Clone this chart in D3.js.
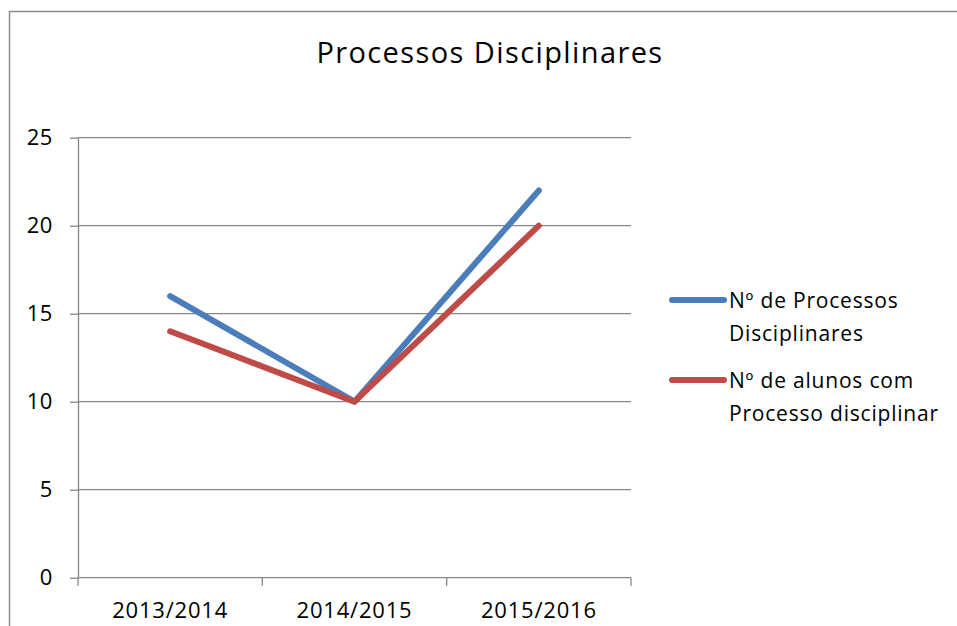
<!DOCTYPE html>
<html>

<head>
  <meta charset="utf-8">
  <title>Processos Disciplinares</title>
  <style>
    body {
      margin: 0;
      background: #fff;
    }

    svg text {
      font-family: "Open Sans", sans-serif;
      fill: #000;
    }

    .grid line {
      stroke: #868686;
      stroke-width: 1.3px;
    }
  </style>
</head>

<body>
  <svg class="chart" width="957" height="626"></svg>

  <script src="https://d3js.org/d3.v7.min.js"></script>
  <script>
    // values
    var years = ['2013/2014', '2014/2015', '2015/2016'];
    var processos = [16, 10, 22];
    var alunos = [14, 10, 20];
    var yTicks = [0, 5, 10, 15, 20, 25];
    var seriesNames = [
      ['Nº de Processos', 'Disciplinares'],
      ['Nº de alunos com', 'Processo disciplinar']
    ];
    var seriesColors = ['#4a7ebb', '#be4b48'];

    var svg = d3.select('svg.chart');
    var plot = { left: 78, right: 631, top: 137.7, bottom: 577.7 };

    // outer chart border (runs off the right and bottom of the picture)
    svg.append('rect')
      .attr('x', 9.5)
      .attr('y', 11.5)
      .attr('width', 1000)
      .attr('height', 700)
      .attr('fill', 'none')
      .attr('stroke', '#8c8c8c')
      .attr('stroke-width', 1.5);

    svg.append('text')
      .attr('x', 490)
      .attr('y', 62.5)
      .attr('text-anchor', 'middle')
      .style('font-size', '29px')
      .style('letter-spacing', '1.4px')
      .text('Processos Disciplinares');

    var x = d3.scaleBand().domain(years).range([plot.left, plot.right]);
    var y = d3.scaleLinear().domain([0, 25]).range([plot.bottom, plot.top]);

    function cx(d) {
      return x(d) + x.bandwidth() / 2;
    }

    // horizontal gridlines
    svg.append('g')
      .attr('class', 'grid')
      .selectAll('line')
      .data(yTicks.filter(function(t) { return t > 0; }))
      .enter().append('line')
      .attr('x1', plot.left)
      .attr('x2', plot.right)
      .attr('y1', function(d) { return y(d); })
      .attr('y2', function(d) { return y(d); });

    // y axis
    var yAxis = svg.append('g')
      .attr('transform', 'translate(' + plot.left + ',0)')
      .call(d3.axisLeft(y).tickValues(yTicks).tickSizeInner(8).tickSizeOuter(0).tickPadding(17));
    yAxis.selectAll('line, path').attr('stroke', '#868686').attr('stroke-width', 1.3);
    yAxis.selectAll('text')
      .style('font-family', '"Open Sans", sans-serif')
      .style('font-size', '22px')
      .style('letter-spacing', '0.6px')
      .attr('fill', '#000');

    // x axis: ticks sit on the category boundaries
    var xAxis = svg.append('g')
      .attr('transform', 'translate(0,' + plot.bottom + ')');
    xAxis.append('line')
      .attr('x1', plot.left)
      .attr('x2', plot.right)
      .attr('stroke', '#868686')
      .attr('stroke-width', 1.3);
    var bounds = years.map(function(d) { return x(d); }).concat([plot.right]);
    xAxis.selectAll('line.tick')
      .data(bounds)
      .enter().append('line')
      .attr('class', 'tick')
      .attr('x1', function(d) { return d; })
      .attr('x2', function(d) { return d; })
      .attr('y1', 0)
      .attr('y2', 8)
      .attr('stroke', '#868686')
      .attr('stroke-width', 1.3);
    xAxis.selectAll('text')
      .data(years)
      .enter().append('text')
      .attr('x', cx)
      .attr('y', 40.5)
      .attr('text-anchor', 'middle')
      .style('font-size', '22px')
      .style('letter-spacing', '0.8px')
      .text(function(d) { return d; });

    var line = d3.line()
      .x(function(d) { return cx(d.year); })
      .y(function(d) { return y(d.value); });

    [processos, alunos].forEach(function(values, i) {
      var points = years.map(function(yr, j) { return { year: yr, value: values[j] }; });
      svg.append('path')
        .datum(points)
        .attr('d', line)
        .attr('fill', 'none')
        .attr('stroke', seriesColors[i])
        .attr('stroke-width', 6)
        .attr('stroke-linecap', 'round')
        .attr('stroke-linejoin', 'round');
    });

    // legend
    var legend = svg.append('g');
    var legendY = [300, 380];
    seriesNames.forEach(function(lines, i) {
      legend.append('line')
        .attr('x1', 672)
        .attr('x2', 724)
        .attr('y1', legendY[i])
        .attr('y2', legendY[i])
        .attr('stroke', seriesColors[i])
        .attr('stroke-width', 6)
        .attr('stroke-linecap', 'round');
      lines.forEach(function(txt, k) {
        legend.append('text')
          .attr('x', 729)
          .attr('y', legendY[i] + 8 + k * 32.7)
          .style('font-size', '21px')
          .style('letter-spacing', '0.8px')
          .text(txt);
      });
    });
  </script>
</body>

</html>
